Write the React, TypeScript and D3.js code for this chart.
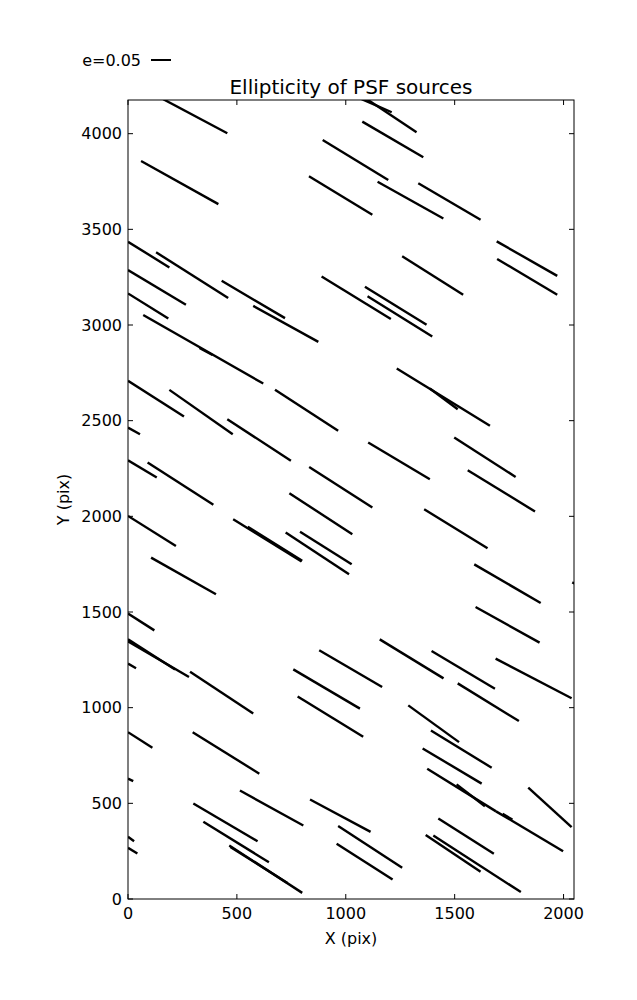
import React from "react";
import * as d3 from "d3";

// Plot extent (detector pixels)
const xDomain: [number, number] = [0, 2048];
const yDomain: [number, number] = [0, 4176];
const xTicks = [0, 500, 1000, 1500, 2000];
const yTicks = [0, 500, 1000, 1500, 2000, 2500, 3000, 3500, 4000];

// PSF-source whisker segments: [x1, y1, x2, y2] in pixels
const segmentsTop: [number, number, number, number][] = [
  [162, 4180, 456, 4002],
  [60, 3857, 415, 3632],
  [1073, 4181, 1211, 4112],
  [1096, 4181, 1325, 4007],
  [1076, 4063, 1356, 3877],
  [894, 3967, 1195, 3758],
  [831, 3777, 1122, 3576],
  [1146, 3749, 1448, 3557],
  [1333, 3741, 1619, 3550],
  [1693, 3437, 1971, 3257],
  [1695, 3345, 1971, 3158],
  [1259, 3359, 1539, 3158],
  [0, 3435, 190, 3301],
  [129, 3380, 460, 3141],
  [0, 3287, 266, 3106],
  [430, 3231, 721, 3036],
  [0, 3165, 185, 3034],
  [889, 3254, 1207, 3031],
  [1088, 3200, 1371, 3001],
  [1100, 3150, 1397, 2940],
  [575, 3100, 874, 2912],
  [70, 3052, 621, 2694],
  [328, 2880, 388, 2843],
];

const segmentsMid: [number, number, number, number][] = [
  [0, 2708, 257, 2522],
  [190, 2661, 481, 2429],
  [675, 2661, 965, 2447],
  [456, 2508, 748, 2290],
  [0, 2464, 55, 2429],
  [0, 2293, 132, 2203],
  [90, 2281, 392, 2060],
  [832, 2258, 1122, 2046],
  [1234, 2773, 1662, 2473],
  [1386, 2668, 1514, 2560],
  [1103, 2386, 1386, 2194],
  [1498, 2412, 1780, 2206],
  [1560, 2241, 1869, 2025],
  [741, 2121, 1030, 1906],
  [1360, 2037, 1651, 1833],
  [0, 2002, 220, 1845],
  [106, 1784, 404, 1593],
  [483, 1985, 797, 1764],
  [550, 1946, 800, 1768],
  [790, 1920, 1027, 1749],
  [724, 1915, 1015, 1697],
  [1590, 1749, 1895, 1547],
  [2040, 1655, 2100, 1620],
  [1596, 1526, 1890, 1340],
  [0, 1492, 121, 1404],
  [0, 1357, 216, 1200],
  [0, 1347, 280, 1160],
  [0, 1230, 37, 1206],
  [285, 1188, 575, 970],
  [1156, 1357, 1449, 1153],
  [1394, 1296, 1685, 1099],
  [1688, 1256, 2037, 1049],
  [878, 1300, 1167, 1108],
  [759, 1200, 1065, 995],
  [779, 1058, 1080, 848],
  [1514, 1127, 1795, 930],
  [1287, 1012, 1520, 820],
];

const segmentsLow: [number, number, number, number][] = [
  [0, 872, 112, 791],
  [297, 872, 603, 655],
  [1391, 881, 1670, 686],
  [1353, 787, 1624, 603],
  [1374, 681, 1690, 458],
  [1509, 599, 1639, 485],
  [1690, 458, 1998, 250],
  [1720, 445, 1765, 415],
  [1838, 582, 2037, 376],
  [0, 629, 24, 616],
  [514, 567, 805, 384],
  [836, 520, 1114, 351],
  [300, 499, 595, 302],
  [346, 404, 647, 192],
  [465, 280, 800, 32],
  [470, 272, 732, 84],
  [0, 325, 28, 302],
  [0, 268, 43, 238],
  [965, 381, 1259, 163],
  [958, 289, 1215, 102],
  [1425, 421, 1680, 236],
  [1367, 334, 1619, 142],
  [1402, 332, 1804, 36],
];

const legendE = 0.05;
const legendLabel = `e=${legendE.toFixed(2)}`;

const W = 637;
const H = 1000;
const margin = { left: 128, right: 574, top: 100, bottom: 899 };
const FONT = "'DejaVu Sans', sans-serif";

export default function App() {
  const x = d3.scaleLinear().domain(xDomain).range([margin.left, margin.right]);
  const y = d3.scaleLinear().domain(yDomain).range([margin.bottom, margin.top]);
  const eScale = d3.scaleLinear().domain([0, legendE]).range([0, 20]);
  const segments = [...segmentsTop, ...segmentsMid, ...segmentsLow];
  const tick = 5;
  const pw = margin.right - margin.left;
  const ph = margin.bottom - margin.top;

  return (
    <svg
      width={W}
      height={H}
      style={{ position: "absolute", left: 0, top: 0, background: "#fff" }}
      fontFamily={FONT}
    >
      <defs>
        <clipPath id="plotclip">
          <rect x={margin.left} y={margin.top} width={pw} height={ph} />
        </clipPath>
      </defs>
      <rect x={0} y={0} width={W} height={H} fill="#fff" />

      {/* legend */}
      <text x={141} y={60} fontSize={16} textAnchor="end" dominantBaseline="central" fill="#000">
        {legendLabel}
      </text>
      <line x1={151} x2={151 + eScale(legendE)} y1={60} y2={60} stroke="#000" strokeWidth={2} />

      {/* title */}
      <text x={(margin.left + margin.right) / 2} y={94} fontSize={20} textAnchor="middle" fill="#000">
        Ellipticity of PSF sources
      </text>

      {/* segments */}
      <g clipPath="url(#plotclip)">
        {segments.map((s, i) => (
          <line
            key={i}
            x1={x(s[0])}
            y1={y(s[1])}
            x2={x(s[2])}
            y2={y(s[3])}
            stroke="#000"
            strokeWidth={2.4}
          />
        ))}
      </g>

      {/* frame */}
      <rect x={margin.left} y={margin.top} width={pw} height={ph} fill="none" stroke="#000" strokeWidth={1} />

      {/* x ticks */}
      {xTicks.map((t) => (
        <g key={"x" + t}>
          <line x1={x(t)} x2={x(t)} y1={margin.bottom} y2={margin.bottom - tick} stroke="#000" />
          <line x1={x(t)} x2={x(t)} y1={margin.top} y2={margin.top + tick} stroke="#000" />
          <text x={x(t)} y={margin.bottom + 14} fontSize={16} textAnchor="middle" dominantBaseline="central">
            {t}
          </text>
        </g>
      ))}
      {/* y ticks */}
      {yTicks.map((t) => (
        <g key={"y" + t}>
          <line x1={margin.left} x2={margin.left + tick} y1={y(t)} y2={y(t)} stroke="#000" />
          <line x1={margin.right} x2={margin.right - tick} y1={y(t)} y2={y(t)} stroke="#000" />
          <text x={margin.left - 6} y={y(t)} fontSize={16} textAnchor="end" dominantBaseline="central">
            {t}
          </text>
        </g>
      ))}

      <text x={(margin.left + margin.right) / 2} y={938} fontSize={16} textAnchor="middle" dominantBaseline="central">
        X (pix)
      </text>
      <text
        transform={`translate(63, ${(margin.top + margin.bottom) / 2}) rotate(-90)`}
        fontSize={16}
        textAnchor="middle"
        dominantBaseline="central"
      >
        Y (pix)
      </text>
    </svg>
  );
}
